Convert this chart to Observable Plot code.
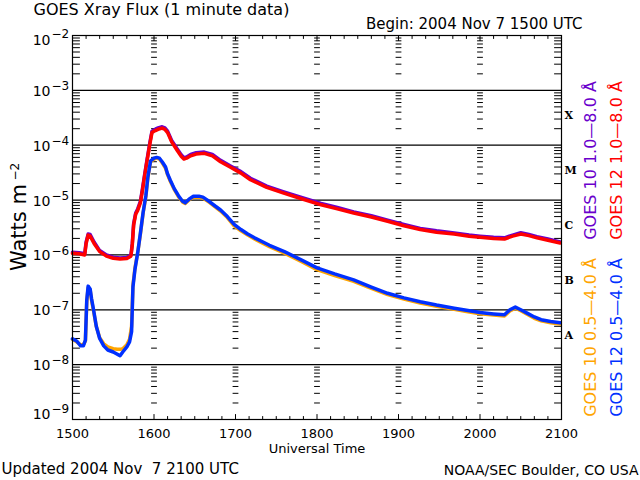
<!DOCTYPE html>
<html>
<head>
<meta charset="utf-8">
<script src="https://cdn.jsdelivr.net/npm/d3@7"></script>
<script src="https://cdn.jsdelivr.net/npm/@observablehq/plot@0.6"></script>
<style>
  html, body { margin: 0; padding: 0; background: #ffffff; }
  #chart svg { display: block; }
</style>
</head>
<body>
<div id="chart"></div>
<script>
// ---------- tick labels / categories ----------
const hourTicks = [0, 60, 120, 180, 240, 300, 360];          // minutes after 1500 UTC
const hourLabels = ["1500", "1600", "1700", "1800", "1900", "2000", "2100"];
const decades = [-9, -8, -7, -6, -5, -4, -3, -2];
const gridDecades = [-8, -7, -6, -5, -4, -3];
const flareClasses = ["A", "B", "C", "M", "X"];
const flareLevels = [-7.5, -6.5, -5.5, -4.5, -3.5];

// ---------- series: GOES long channel (1.0-8.0 A) ----------
const longTimes = [0, 5, 9, 10, 11.5, 13, 16, 20, 25, 30,
  35, 40, 43, 44, 45, 46.5, 48, 50, 51.5, 53,
  55, 57, 58.5, 61, 63, 66, 68, 70, 73, 77,
  80, 82, 84, 87, 91, 97, 103, 109, 116, 124,
  131, 143, 155, 168, 183, 195, 207, 220, 232, 244,
  256, 268, 281, 292, 300, 310, 318, 324, 330, 336,
  342, 350, 359];
const goes12Long = [1.07e-6, 1.05e-6, 1.0e-6, 1.6e-6, 2.3e-6, 2.2e-6, 1.6e-6, 1.15e-6, 9.5e-7, 8.7e-7,
  8.4e-7, 8.6e-7, 9.5e-7, 1.5e-6, 3.5e-6, 5.5e-6, 6.5e-6, 9e-6, 1.5e-5, 2.65e-5,
  5.4e-5, 1.07e-4, 1.7e-4, 1.85e-4, 1.95e-4, 2.05e-4, 1.95e-4, 1.7e-4, 1.15e-4, 8.1e-5,
  6.3e-5, 5.6e-5, 5.8e-5, 6.4e-5, 6.9e-5, 7.1e-5, 6.4e-5, 5.0e-5, 4.0e-5, 3.1e-5,
  2.35e-5, 1.7e-5, 1.35e-5, 1.07e-5, 8.2e-6, 6.9e-6, 5.8e-6, 4.9e-6, 4.1e-6, 3.4e-6,
  2.9e-6, 2.6e-6, 2.4e-6, 2.2e-6, 2.1e-6, 2.0e-6, 1.95e-6, 2.2e-6, 2.4e-6, 2.25e-6,
  2.05e-6, 1.85e-6, 1.65e-6];
const goes10Long = [1.12e-6, 1.1e-6, 1.05e-6, 1.7e-6, 2.4e-6, 2.35e-6, 1.7e-6, 1.2e-6, 1.0e-6, 9.1e-7,
  8.8e-7, 9.0e-7, 1.0e-6, 1.6e-6, 3.7e-6, 5.8e-6, 6.9e-6, 9.5e-6, 1.6e-5, 2.8e-5,
  5.7e-5, 1.13e-4, 1.8e-4, 1.96e-4, 2.07e-4, 2.17e-4, 2.07e-4, 1.8e-4, 1.22e-4, 8.6e-5,
  6.7e-5, 5.9e-5, 6.1e-5, 6.8e-5, 7.3e-5, 7.5e-5, 6.8e-5, 5.3e-5, 4.2e-5, 3.3e-5,
  2.5e-5, 1.8e-5, 1.43e-5, 1.13e-5, 8.7e-6, 7.3e-6, 6.1e-6, 5.2e-6, 4.3e-6, 3.6e-6,
  3.05e-6, 2.75e-6, 2.5e-6, 2.3e-6, 2.2e-6, 2.1e-6, 2.05e-6, 2.3e-6, 2.55e-6, 2.35e-6,
  2.15e-6, 1.95e-6, 1.72e-6];

// ---------- series: GOES short channel (0.5-4.0 A) ----------
const shortTimes = [0, 3, 6, 8, 9.5, 10.5, 11.5, 13, 14, 15.5,
  17.5, 20, 23, 26, 30, 33, 35, 37, 40, 42,
  43.5, 44.5, 46, 48, 50, 52, 54, 55.5, 57.5, 60,
  62, 64, 66, 68.5, 70, 72, 75, 78, 81, 83,
  86, 89, 93, 96, 101, 105, 109, 114, 119, 124,
  129, 134, 145, 156, 168, 180, 193, 207, 220, 232,
  244, 256, 268, 281, 290, 300, 310, 318, 322, 326,
  330, 335, 340, 345, 352, 359];
const goes12Short = [2.95e-8, 2.7e-8, 2.2e-8, 2.2e-8, 2.8e-8, 1.5e-7, 2.7e-7, 2.4e-7, 1.6e-7, 1.0e-7,
  5e-8, 3.0e-8, 2.2e-8, 1.85e-8, 1.7e-8, 1.55e-8, 1.45e-8, 1.7e-8, 2.1e-8, 2.6e-8,
  4e-8, 2.6e-7, 5.5e-7, 1.1e-6, 2.5e-6, 6e-6, 1.2e-5, 2.65e-5, 5.2e-5, 5.8e-5,
  6.0e-5, 5.8e-5, 5.0e-5, 4.0e-5, 3.0e-5, 2.3e-5, 1.6e-5, 1.2e-5, 9.5e-6, 8.9e-6,
  1.05e-5, 1.17e-5, 1.18e-5, 1.13e-5, 9.3e-6, 7.8e-6, 6.6e-6, 5.0e-6, 3.6e-6, 2.9e-6,
  2.4e-6, 2.05e-6, 1.5e-6, 1.15e-6, 8.2e-7, 5.8e-7, 4.5e-7, 3.5e-7, 2.6e-7, 2.0e-7,
  1.65e-7, 1.4e-7, 1.22e-7, 1.07e-7, 9.8e-8, 8.9e-8, 8.4e-8, 8.1e-8, 1.0e-7, 1.12e-7,
  1.0e-7, 8.6e-8, 7.4e-8, 6.6e-8, 6.1e-8, 5.8e-8];
const goes10Short = [2.9e-8, 2.6e-8, 2.3e-8, 2.3e-8, 2.7e-8, 1.4e-7, 2.5e-7, 2.3e-7, 1.5e-7, 9.5e-8,
  5e-8, 3.1e-8, 2.4e-8, 2.1e-8, 1.95e-8, 1.9e-8, 1.9e-8, 1.95e-8, 2.3e-8, 2.9e-8,
  5e-8, 2.8e-7, 5.8e-7, 1.1e-6, 2.4e-6, 5.8e-6, 1.15e-5, 2.55e-5, 5.0e-5, 5.6e-5,
  5.8e-5, 5.6e-5, 4.8e-5, 3.8e-5, 2.9e-5, 2.2e-5, 1.55e-5, 1.15e-5, 9.2e-6, 8.7e-6,
  1.02e-5, 1.13e-5, 1.14e-5, 1.09e-5, 9.0e-6, 7.5e-6, 6.3e-6, 4.8e-6, 3.4e-6, 2.75e-6,
  2.3e-6, 1.95e-6, 1.42e-6, 1.08e-6, 7.7e-7, 5.4e-7, 4.2e-7, 3.3e-7, 2.45e-7, 1.9e-7,
  1.57e-7, 1.33e-7, 1.16e-7, 1.02e-7, 9.3e-8, 8.5e-8, 8.0e-8, 7.7e-8, 9.5e-8, 1.07e-7,
  9.6e-8, 8.2e-8, 7.0e-8, 6.3e-8, 5.8e-8, 5.5e-8];

const seriesLabels = {
  g10long: "GOES 10 1.0\u20148.0 \u00C5",
  g12long: "GOES 12 1.0\u20148.0 \u00C5",
  g10short: "GOES 10 0.5\u20144.0 \u00C5",
  g12short: "GOES 12 0.5\u20144.0 \u00C5"
};
const colors = { g10long: "#6a00cc", g12long: "#ff0000", g10short: "#ffa500", g12short: "#0030ff" };

// ---------- derived tables ----------
const toRows = (times, vals) => times.map((t, i) => ({ t, v: vals[i] }));
const minorY = [];
for (const e of decades.slice(0, -1)) for (let m = 2; m <= 9; m++) minorY.push(m * 10 ** e);
const innerHours = hourTicks.slice(1, -1);
const columnTicks = [];
for (const h of innerHours) for (const v of minorY) columnTicks.push({ x: h, y: v });
const minorX = d3.range(10, 360, 10).filter(m => m % 60 !== 0);

const tickShape = { draw(ctx, l) { ctx.moveTo(0, 0); ctx.lineTo(0, -l); } };
const vt = (data, opts) => Plot.vector(data, { shape: tickShape, stroke: "black", strokeWidth: 1, anchor: "start", ...opts });
const label = (str, opts) => Plot.text([str], { text: d => d, lineAnchor: "middle", ...opts });

const midDecades = decades.filter(e => e > -9 && e < -2);

const chart = Plot.plot({
  width: 640,
  height: 480,
  marginLeft: 72,
  marginRight: 79,
  marginTop: 35,
  marginBottom: 61,
  x: { domain: [0, 360], axis: null },
  y: { type: "log", domain: [1e-9, 1e-2], axis: null },
  style: { fontFamily: "'DejaVu Sans', sans-serif", fontSize: "14px", background: "white", color: "black" },
  marks: [
    Plot.ruleY(gridDecades.map(e => 10 ** e), { stroke: "black", strokeWidth: 1.2 }),
    // log minor ticks
    vt(minorY, { y: d => d, frameAnchor: "left", rotate: 90, length: 7 }),
    vt(minorY, { y: d => d, frameAnchor: "right", rotate: -90, length: 7 }),
    vt(columnTicks, { x: "x", y: "y", rotate: 90, length: 5, anchor: "middle" }),
    // time ticks
    vt(minorX, { x: d => d, frameAnchor: "bottom", rotate: 0, length: 3 }),
    vt(minorX, { x: d => d, frameAnchor: "top", rotate: 180, length: 3 }),
    vt(innerHours, { x: d => d, frameAnchor: "bottom", rotate: 0, length: 5 }),
    vt(innerHours, { x: d => d, frameAnchor: "top", rotate: 180, length: 5 }),
    // data
    Plot.line(toRows(longTimes, goes10Long), { x: "t", y: "v", stroke: colors.g10long, strokeWidth: 3.5 }),
    Plot.line(toRows(longTimes, goes12Long), { x: "t", y: "v", stroke: colors.g12long, strokeWidth: 3.5 }),
    Plot.line(toRows(shortTimes, goes10Short), { x: "t", y: "v", stroke: colors.g10short, strokeWidth: 3.5 }),
    Plot.line(toRows(shortTimes, goes12Short), { x: "t", y: "v", stroke: colors.g12short, strokeWidth: 3.5 }),
    Plot.frame({ stroke: "black", strokeWidth: 1.2 }),
    // x tick labels
    Plot.text(hourTicks, { x: d => d, text: (d, i) => hourLabels[i], frameAnchor: "bottom", lineAnchor: "middle", dy: 14, fontSize: 13 }),
    label("Universal Time", { frameAnchor: "bottom", textAnchor: "middle", dy: 29, fontSize: 13 }),
    // y tick labels 10^e
    Plot.text(midDecades, { y: e => 10 ** e, text: () => "10", frameAnchor: "left", textAnchor: "end", lineAnchor: "middle", dx: -22, dy: 1, fontSize: 14 }),
    Plot.text(midDecades, { y: e => 10 ** e, text: e => "\u2212" + (-e), frameAnchor: "left", textAnchor: "start", lineAnchor: "middle", dx: -21, dy: -4, fontSize: 12 }),
    Plot.text([-2], { y: e => 10 ** e, text: () => "10", frameAnchor: "left", textAnchor: "end", lineAnchor: "middle", dx: -22, dy: 5.5, fontSize: 14 }),
    Plot.text([-2], { y: e => 10 ** e, text: e => "\u2212" + (-e), frameAnchor: "left", textAnchor: "start", lineAnchor: "middle", dx: -21, dy: -1, fontSize: 12 }),
    Plot.text([-9], { y: e => 10 ** e, text: () => "10", frameAnchor: "left", textAnchor: "end", lineAnchor: "middle", dx: -22, dy: -4.5, fontSize: 14 }),
    Plot.text([-9], { y: e => 10 ** e, text: e => "\u2212" + (-e), frameAnchor: "left", textAnchor: "start", lineAnchor: "middle", dx: -21, dy: -10, fontSize: 12 }),
    // y axis title
    label("Watts m", { frameAnchor: "left", rotate: -90, textAnchor: "middle", dx: -53, dy: 0, fontSize: 21 }),
    label("\u22122", { frameAnchor: "left", rotate: -90, textAnchor: "start", dx: -57, dy: -47, fontSize: 12 }),
    // flare classes
    Plot.text(flareClasses, { y: (d, i) => 10 ** flareLevels[i], text: d => d, frameAnchor: "right", textAnchor: "start", lineAnchor: "middle", dx: 3, dy: -2, fontSize: 11, fontWeight: "bold", fontFamily: "'DejaVu Serif', serif" }),
    // series labels (rotated)
    label(seriesLabels.g10long, { frameAnchor: "right", rotate: -90, textAnchor: "middle", dx: 29, dy: -67, fontSize: 16, fill: colors.g10long }),
    label(seriesLabels.g12long, { frameAnchor: "right", rotate: -90, textAnchor: "middle", dx: 55, dy: -67, fontSize: 16, fill: colors.g12long }),
    label(seriesLabels.g10short, { frameAnchor: "right", rotate: -90, textAnchor: "middle", dx: 29, dy: 110, fontSize: 16, fill: colors.g10short }),
    label(seriesLabels.g12short, { frameAnchor: "right", rotate: -90, textAnchor: "middle", dx: 55, dy: 110, fontSize: 16, fill: colors.g12short }),
    // titles and footers
    label("GOES Xray Flux (1 minute data)", { frameAnchor: "top-left", textAnchor: "start", dx: -39, dy: -26, fontSize: 16 }),
    label("Begin: 2004 Nov 7 1500 UTC", { frameAnchor: "top-right", textAnchor: "end", dx: 21, dy: -11.5, fontSize: 15 }),
    label("Updated 2004 Nov\u00A0 7 2100 UTC", { frameAnchor: "bottom-left", textAnchor: "start", dx: -71, dy: 50, fontSize: 15 }),
    label("NOAA/SEC Boulder, CO USA", { frameAnchor: "bottom-right", textAnchor: "end", dx: 77, dy: 51, fontSize: 14 })
  ]
});

document.getElementById("chart").appendChild(chart);
</script>
</body>
</html>
